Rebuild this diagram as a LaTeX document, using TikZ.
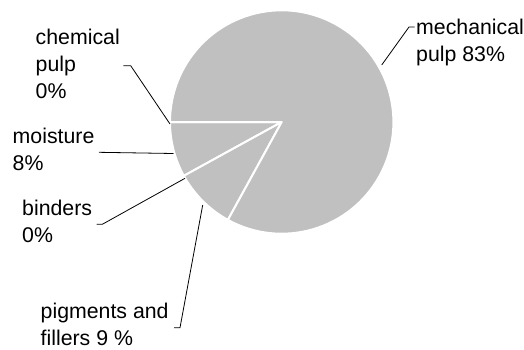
\documentclass[tikz,border=0pt]{standalone}
\usepackage{fontspec}
\setmainfont{Liberation Sans}
\usepackage{tikz}
\usepackage{xcolor}
\definecolor{piegray}{RGB}{192,192,192}

\begin{document}
\begin{tikzpicture}[x=1pt,y=-1pt,
  slice/.style={fill=piegray,draw=white,line width=2pt,line join=round},
  leader/.style={draw=black,line width=0.8pt},
  lbl/.style={anchor=base west,inner sep=0pt,align=left,
    font=\fontsize{21.3}{27}\selectfont}]
\useasboundingbox (0,0) rectangle (524,349);
\coordinate (c) at (281.7,122);
\filldraw[slice](c) -- ++(180:111.7) arc[start angle=180,end angle=151.2,radius=111.7] -- cycle;
\filldraw[slice](c) -- ++(151.2:111.7) arc[start angle=151.2,end angle=118.8,radius=111.7] -- cycle;
\filldraw[slice](c) -- ++(118.8:111.7) arc[start angle=118.8,end angle=-180,radius=111.7] -- cycle;
\node[lbl] (mech) at (416,61) {mechanical\\pulp 83\%};
\node[lbl] (chem) at (35.5,98.3) {chemical\\pulp\\0\%};
\node[lbl] (moist) at (12.5,170.7) {moisture\\8\%};
\node[lbl] (bind) at (22,242.7) {binders\\0\%};
\node[lbl] (pig) at (40.5,345.5) {pigments and\\fillers 9 \%};
\coordinate (mechpt) at (381.7,65);
\coordinate (mechbend) at (409,27);
\coordinate (mechend) at (414.5,27);
\coordinate (chempt) at (170,124);
\coordinate (chembend) at (130.7,65.7);
\coordinate (chemend) at (123.3,65.7);
\coordinate (moistpt) at (173.5,153.5);
\coordinate (moistend) at (99,152.3);
\coordinate (bindpt) at (185,178.3);
\coordinate (bindbend) at (102.3,224.3);
\coordinate (bindend) at (96.7,224.3);
\coordinate (pigpt) at (202.7,205);
\coordinate (pigbend) at (180,327.7);
\coordinate (pigend) at (174,327.7);
\draw[leader](mechpt) -- (mechbend) -- (mechend);
\draw[leader](chempt) -- (chembend) -- (chemend);
\draw[leader](moistpt) -- (moistend);
\draw[leader](bindpt) -- (bindbend) -- (bindend);
\draw[leader](pigpt) -- (pigbend) -- (pigend);
\end{tikzpicture}
\end{document}
